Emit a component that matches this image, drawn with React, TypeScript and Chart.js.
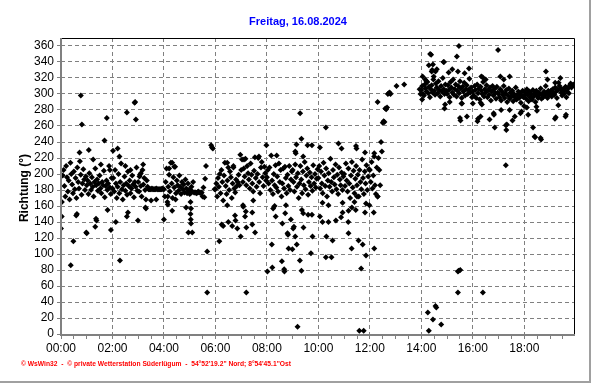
import React, { useEffect, useRef } from 'react';
import { Chart, registerables } from 'chart.js';
Chart.register(...registerables);

const TITLE = 'Freitag, 16.08.2024';
const Y_TITLE = 'Richtung (°)';
const FOOTER = '© WsWin32  -  © private Wetterstation Süderlügum  -  54°52\'19.2" Nord; 8°54\'45.1"Ost';

const xTickLabels = ['00:00', '02:00', '04:00', '06:00', '08:00', '10:00', '12:00', '14:00', '16:00', '18:00'];
const xLabelHours = [0, 2, 4, 6, 8, 10, 12, 14, 16, 18];
const yTickValues = [0, 20, 40, 60, 80, 100, 120, 140, 160, 180, 200, 220, 240, 260, 280, 300, 320, 340, 360];

// Wind direction readings, one every 2 minutes per hour (null = no reading)
const h00 = [132, 165, 198, 205, 185, 172, 210, 196, 178, 192, 168, 214, 200, 187, 176, 203, 181, 195, 170, 208, 190, 182, 216, 199, 174, 188, 206, 193, 180, 197];
const h01 = [186, 192, 175, 201, 188, 180, 196, 184, 172, 190, 207, 186, 193, 179, 188, 198, 182, 176, 190, 186, 204, 171, 185, 192, 180, 188, 210, 183, 175, 195];
const h02 = [182, 195, 178, 205, 188, 170, 184, 200, 176, 190, 213, 181, 168, 186, 197, 179, 188, 174, 203, 185, 192, 176, 182, 198, 187, 171, 190, 184, 208, 179];
const h03 = [190, 178, 199, 185, 172, 205, 187, 195, 180, 168, 192, 184, 181, 181, 181, 181, 182, 181, 181, 181, 181, 182, 181, 181, 181, 181, 181, 181, 182, 181];
const h04 = [181, 172, 190, 207, 165, 184, 199, 178, 214, 188, 170, 196, 183, 209, 176, 192, 186, 179, 198, 184, 175, 190, 181, 187, 177, 193, 182, 176, 188, 180];
const h05 = [180, 176, 184, 178, 190, 177, 177, 177, 176, 177, 178, 177, 177, 176, 177, 172, 183, 171, 194, 210, null, null, null, null, null, 236, 233, 232, null, 181];
const h06 = [181, 188, 172, 195, 184, 200, 176, 205, 190, 167, 198, 214, 185, 175, 192, 208, 180, 203, 196, 170, 188, 210, 182, 177, 193, 185, 190, 199, 186, 224];
const h07 = [205, 218, 190, 207, 197, 219, 186, 210, 201, 193, 182, 213, 199, 188, 178, 204, 221, 195, 184, 200, 220, 190, 176, 208, 215, 196, 185, 209, 201, 192];
const h08 = [196, 205, 188, 208, 180, 223, 192, 175, 200, 186, 211, 183, 197, 178, 213, 190, 205, 172, 188, 207, 182, 209, 195, 176, 199, 185, 210, 180, 193, 203];
const h09 = [205, 190, 178, 212, 196, 184, 201, 170, 188, 210, 193, 176, 203, 186, 215, 181, 198, 207, 174, 190, 202, 185, 196, 179, 211, 188, 200, 183, 194, 206];
const h10 = [195, 210, 182, 203, 188, 176, 214, 198, 185, 207, 172, 192, 201, 184, 219, 190, 178, 205, 196, 187, 212, 181, 199, 175, 208, 193, 186, 202, 180, 197];
const h11 = [200, 185, 213, 192, 178, 207, 188, 170, 198, 215, 183, 204, 176, 194, 210, 186, 199, 172, 205, 190, 181, 218, 195, 175, 203, 188, 211, 180, 197, 206];
const h12 = [205, 190, 215, 182, 198, 222, 186, 175, 208, 172, 220, 205, 186, 240, 228, 264, 266, 265, 282, 281, 283, 300, 301, 302, 300, null, null, null, null, null];
const h13 = [null, 310, null, null, null, null, null, null, null, null, 312, null, null, null, null, null, null, null, null, null, null, null, null, null, null, null, null, null, 306, 300];
const h14 = [305, 310, 300, 298, 312, 307, 303, 315, 301, 309, 296, 306, 311, 302, 318, 304, 299, 313, 308, 301, 316, 305, 297, 310, 303, 320, 306, 300, 312, 304];
const h15 = [300, 311, 305, 296, 315, 308, 302, 318, 299, 306, 312, 297, 304, 310, 301, 316, 307, 295, 309, 303, 314, 298, 306, 311, 300, 305, 319, 302, 308, 296];
const h16 = [303, 298, 310, 305, 295, 312, 301, 307, 293, 309, 304, 300, 315, 297, 306, 302, 311, 296, 305, 299, 308, 292, 303, 310, 298, 306, 301, 294, 309, 302];
const h17 = [300, 296, 306, 292, 303, 299, 310, 295, 301, 305, 290, 298, 307, 294, 302, 297, 304, 291, 300, 296, 308, 293, 299, 303, 295, 301, 289, 298, 304, 296];
const h18 = [298, 302, 294, 306, 299, 291, 303, 296, 300, 293, 305, 297, 301, 290, 304, 298, 295, 302, 299, 307, 294, 300, 296, 303, 298, 310, 301, 295, 304, 299];
const h19 = [300, 304, 297, 306, 301, 299, 308, 303, 295, 305, 314, 310, 307, 302, 298, 306, 300, 304, 309, 296, 303, 307, 301, 311, 313, 308, 310, 312];

const hourly = [h00, h01, h02, h03, h04, h05, h06, h07, h08, h09, h10, h11, h12, h13, h14, h15, h16, h17, h18, h19];

// Isolated readings (time in hours, direction in degrees)
const outT = [
  0.03, 0.38, 0.48, 0.59, 0.62, 0.77, 0.81, 0.72, 0.98, 1.0,
  1.08, 1.33, 1.36, 1.38, 1.69, 1.78, 1.81, 1.94, 1.25, 1.55, 1.9,
  2.02, 2.13, 2.2, 2.27, 2.29, 2.56, 2.56, 2.6, 2.86, 2.88, 2.91, 2.99, 2.5, 2.7,
  3.19, 3.28, 3.3, 3.5, 3.1, 3.05, 3.7,
  4.0, 4.15, 4.15, 4.32, 4.45, 4.86, 4.2, 4.32, 4.4,
  5.03, 5.05, 5.03, 5.04, 5.05, 4.95, 5.1, 5.68, 5.68, 5.0,
  6.15, 6.24, 6.3, 6.46, 6.5, 6.65, 6.76, 6.78, 6.85, 6.98, 6.46, 6.7,
  7.07, 7.08, 7.18, 7.15, 7.2, 7.2, 7.43, 7.43, 7.54, 7.47, 7.98, 7.11, 7.69,
  8.02, 8.21, 8.19, 8.34, 8.24, 8.3, 8.6, 8.71, 8.74, 8.8, 8.82, 8.58, 8.67, 8.68, 8.93, 8.84, 8.99, 8.38,
  9.02, 9.05, 9.1, 9.16, 9.28, 9.34, 9.19, 9.12, 9.1, 9.15, 9.34, 9.29, 9.41, 9.42, 9.36, 9.41, 9.58, 9.75, 9.77, 9.71, 9.6, 9.75,
  10.16, 10.06, 10.16, 10.39, 10.39, 10.31, 10.55, 10.29, 10.51, 10.68, 10.88, 10.94, 10.94, 10.06, 10.29, 10.78, 10.9,
  11.17, 11.16, 11.17, 11.29, 11.56, 11.72, 11.85, 11.66, 11.59, 11.76, 11.81, 11.85, 11.98, 11.46, 11.48, 11.81, 11.4, 11.5, 11.3, 11.45,
  12.3, 12.17, 12.15, 12.17, 12.3,
  14.25, 14.45, 14.29, 14.55, 14.58, 14.77, 14.34, 14.38, 14.29, 14.45, 14.4, 14.42, 14.48, 14.05, 14.86, 14.88, 14.6, 14.55, 14.03, 14.9, 14.92, 14.15, 14.2,
  15.06, 15.2, 15.42, 15.68, 15.85, 15.38, 15.46, 15.1, 15.56, 15.52, 15.5, 15.77, 15.42, 15.51, 15.45, 15.42, 15.58,
  16.0, 16.3, 16.35, 16.2, 16.18, 16.3, 16.65, 16.81, 16.82, 16.85, 16.33, 16.38, 16.39, 16.98, 16.5,
  17.1, 17.07, 17.43, 17.28, 17.32, 17.3, 17.54, 17.43, 17.63, 17.89, 17.85, 17.99, 17.28, 17.2,
  18.15, 18.34, 18.4, 18.42, 18.63, 18.65, 18.47, 18.49, 18.84, 18.9, 18.1,
  19.19, 19.22, 19.6, 19.62, 19.32, 19.2, 19.4,
];
const outD = [
  147, 86, 116, 148, 150, 298, 262, 227, 127, 126,
  230, 134, 144, 142, 242, 270, 155, 130, 218, 212, 205,
  229, 140, 232, 222, 92, 277, 147, 152, 289, 290, 268, 142, 210, 205,
  212, 158, 157, 167, 201, 197, 168,
  143, 162, 172, 154, 168, 158, 207, 214, 209,
  165, 157, 150, 143, 138, 127, 127, 103, 52, 175,
  116, 137, 135, 161, 140, 135, 148, 142, 132, 122, 214, 208,
  161, 159, 153, 147, 133, 52, 152, 137, 127, 167, 236, 218, 222,
  78, 83, 112, 147, 157, 160, 138, 151, 161, 126, 124, 91, 81, 78, 143, 107, 106, 223,
  132, 134, 122, 112, 92, 79, 9, 226, 228, 237, 244, 276, 151, 133, 155, 222, 236, 236, 122, 101, 149, 149,
  164, 147, 140, 140, 161, 122, 117, 96, 96, 142, 146, 152, 164, 233, 258, 238, 232,
  154, 140, 126, 107, 117, 112, 98, 82, 4, 4, 152, 163, 161, 235, 232, 227, 165, 172, 158, 155,
  290, 107, 152, 226, 172,
  27, 18, 4, 35, 33, 12, 350, 349, 336, 337, 328, 330, 322, 322, 340, 340, 331, 328, 293, 282, 287, 318, 316,
  327, 331, 328, 326, 332, 347, 360, 290, 288, 267, 270, 272, 78, 80, 79, 52, 288,
  288, 289, 287, 269, 266, 272, 268, 276, 274, 258, 322, 321, 52, 355, 318,
  280, 322, 322, 261, 262, 255, 267, 280, 272, 278, 276, 285, 211, 318,
  274, 258, 247, 246, 245, 243, 284, 279, 328, 318, 283,
  269, 271, 272, 274, 286, 314, 320,
];

const FONT = '"Liberation Sans", Arial, sans-serif';

const decor = {
  id: 'decor',
  beforeDraw(chart: any) {
    const ctx = chart.ctx;
    ctx.save();
    ctx.fillStyle = '#ffffff';
    ctx.fillRect(0, 0, chart.width, chart.height);
    ctx.restore();
  },
  afterDraw(chart: any) {
    const ctx = chart.ctx;
    const a = chart.chartArea;
    ctx.save();
    ctx.strokeStyle = '#000000';
    ctx.lineWidth = 1;
    ctx.setLineDash([]);
    ctx.beginPath();
    ctx.moveTo(a.left, a.top + 0.5);
    ctx.lineTo(a.right + 0.5, a.top + 0.5);
    ctx.lineTo(a.right + 0.5, a.bottom);
    ctx.stroke();
    ctx.strokeStyle = '#808080';
    ctx.lineWidth = 2;
    ctx.beginPath();
    ctx.moveTo(a.left, a.top);
    ctx.lineTo(a.left, a.bottom + 1);
    ctx.lineTo(a.right + 1, a.bottom + 1);
    ctx.stroke();
    ctx.strokeStyle = '#a0a0a0';
    ctx.lineWidth = 2;
    ctx.beginPath();
    ctx.moveTo(590, 0);
    ctx.lineTo(590, 382);
    ctx.lineTo(0, 382);
    ctx.stroke();
    ctx.fillStyle = '#0000ff';
    ctx.font = 'bold 11px ' + FONT;
    ctx.textAlign = 'center';
    ctx.textBaseline = 'middle';
    ctx.fillText(TITLE, 298, 22);
    ctx.save();
    ctx.translate(25, 188);
    ctx.rotate(-Math.PI / 2);
    ctx.fillStyle = '#000000';
    ctx.font = 'bold 12px ' + FONT;
    ctx.fillText(Y_TITLE, 0, 0);
    ctx.restore();
    ctx.fillStyle = '#ff0000';
    ctx.font = 'bold 7px ' + FONT;
    ctx.textAlign = 'left';
    ctx.fillText(FOOTER, 21, 364, 270);
    ctx.restore();
  },
};

export default function App() {
  const ref = useRef<HTMLCanvasElement>(null);
  useEffect(() => {
    const canvas = ref.current;
    if (!canvas) return;
    const pts: { x: number; y: number }[] = [];
    hourly.forEach((arr, h) => {
      arr.forEach((v, i) => {
        if (v !== null && v !== undefined) pts.push({ x: h + i / 30, y: v as number });
      });
    });
    outT.forEach((t, i) => pts.push({ x: t, y: outD[i] }));

    const minorTicks: number[] = [];
    for (let v = 0; v <= 19.5; v += 0.5) minorTicks.push(v);

    const chart = new Chart(canvas, {
      type: 'scatter',
      data: {
        datasets: [
          {
            data: pts,
            pointStyle: 'rectRot',
            pointRadius: 3,
            pointBackgroundColor: '#000000',
            pointBorderWidth: 0,
            pointHoverRadius: 3,
          },
        ],
      },
      options: {
        animation: false,
        responsive: false,
        devicePixelRatio: 1,
        events: [],
        layout: { padding: { left: 0, right: 18, top: 38, bottom: 0 } },
        plugins: { legend: { display: false }, title: { display: false }, tooltip: { enabled: false } },
        scales: {
          x: {
            type: 'linear',
            min: 0,
            max: 19.93,
            afterBuildTicks: (scale: any) => {
              scale.ticks = minorTicks.map((v) => ({ value: v }));
            },
            afterFit: (scale: any) => {
              scale.height = 50;
            },
            ticks: {
              autoSkip: false,
              maxRotation: 0,
              padding: 2,
              color: '#000000',
              font: { family: FONT, size: 12 },
              callback: (v: any) => {
                const idx = xLabelHours.indexOf(Number(v));
                return idx >= 0 ? xTickLabels[idx] : '';
              },
            },
            grid: {
              color: (c: any) => (c.tick && xLabelHours.indexOf(c.tick.value) >= 0 ? '#808080' : 'rgba(0,0,0,0)'),
              tickColor: '#808080',
              tickLength: 5,
              lineWidth: 1,
            },
            border: { display: false, dash: [4, 3] },
          },
          y: {
            min: 0,
            max: 370,
            afterBuildTicks: (scale: any) => {
              scale.ticks = yTickValues.map((v) => ({ value: v }));
            },
            afterFit: (scale: any) => {
              scale.width = 61;
            },
            ticks: {
              autoSkip: false,
              padding: 3,
              color: '#000000',
              font: { family: FONT, size: 12 },
            },
            grid: {
              color: '#808080',
              tickColor: '#808080',
              tickLength: 4,
              lineWidth: 1,
            },
            border: { display: false, dash: [4, 3] },
          },
        },
      },
      plugins: [decor],
    } as any);
    return () => chart.destroy();
  }, []);
  return (
    <div style={{ position: 'absolute', left: 0, top: 0, width: 592, height: 384, background: '#ffffff' }}>
      <canvas ref={ref} width={592} height={384} style={{ display: 'block' }} />
    </div>
  );
}
